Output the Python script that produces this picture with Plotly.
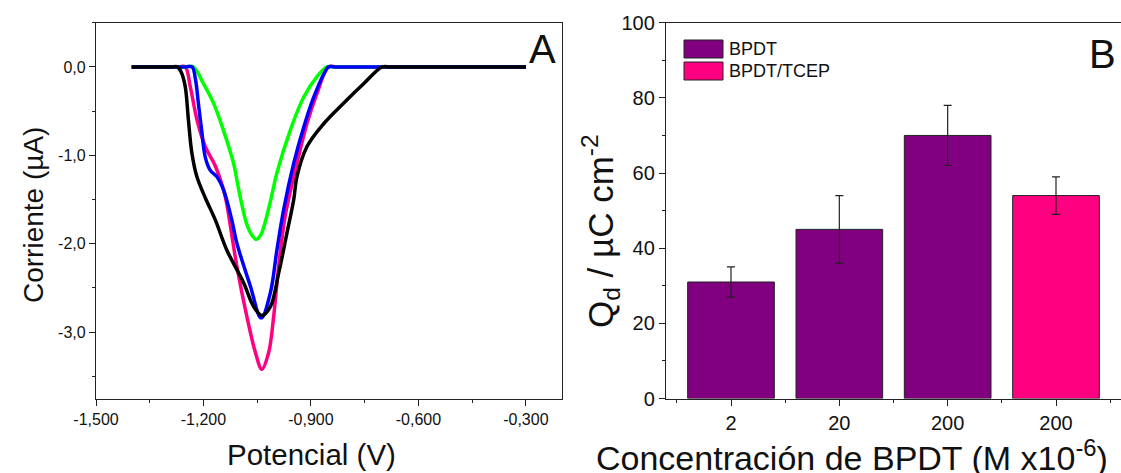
import plotly.graph_objects as go

# ---------------- Data: panel A (stripping voltammograms) ----------------
pot_pink = [-1.402, -1.32, -1.27, -1.251, -1.237, -1.218, -1.195, -1.167, -1.144, -1.135, -1.107, -1.079, -1.055,
            -1.037, -1.018, -1.004, -0.990, -0.972, -0.939, -0.911, -0.883, -0.851, -0.83, -0.80, -0.60, -0.30]
cur_pink = [0, 0, 0, 0, -0.22, -0.60, -0.90, -1.12, -1.39, -1.55, -2.25, -2.82, -3.23,
            -3.42, -3.23, -2.82, -2.25, -1.69, -1.09, -0.64, -0.30, 0, 0, 0, 0, 0]

pot_green = [-1.40, -1.32, -1.25, -1.228, -1.200, -1.172, -1.144, -1.116, -1.102, -1.079, -1.065, -1.053, -1.040,
             -1.028, -1.012, -0.995, -0.958, -0.920, -0.883, -0.855, -0.83, -0.80, -0.60, -0.30]
cur_green = [0, 0, 0, 0, -0.19, -0.41, -0.72, -1.09, -1.38, -1.78, -1.90, -1.95, -1.90,
             -1.76, -1.50, -1.20, -0.72, -0.34, -0.11, 0, 0, 0, 0, 0]

pot_blue = [-1.40, -1.32, -1.25, -1.232, -1.222, -1.214, -1.205, -1.195, -1.181, -1.163, -1.144, -1.121, -1.107,
            -1.069, -1.039, -1.013, -0.995, -0.976, -0.948, -0.920, -0.892, -0.864, -0.851, -0.83, -0.80,
            -0.60, -0.30]
cur_blue = [0, 0, 0, 0, -0.15, -0.42, -0.72, -1.02, -1.17, -1.24, -1.39, -1.73, -1.99,
            -2.48, -2.84, -2.55, -2.07, -1.61, -1.09, -0.68, -0.34, -0.08, 0, 0, 0,
            0, 0]

pot_black = [-1.40, -1.34, -1.29, -1.273, -1.262, -1.251, -1.242, -1.2325, -1.2185, -1.195, -1.167, -1.135, -1.088,
             -1.060, -1.037, -1.013, -0.990, -0.967, -0.948, -0.939, -0.911, -0.864, -0.809, -0.753,
             -0.701, -0.68, -0.65, -0.50, -0.30]
cur_black = [0, 0, 0, 0, -0.06, -0.22, -0.60, -0.97, -1.24, -1.48, -1.73, -2.07, -2.44,
             -2.71, -2.81, -2.71, -2.33, -1.88, -1.50, -1.24, -0.90, -0.64, -0.41, -0.19,
             0, 0, 0, 0, 0]

xa_ticks = [-1.5, -1.2, -0.9, -0.6, -0.3]
xa_labels = ["-1,500", "-1,200", "-0,900", "-0,600", "-0,300"]
ya_ticks = [0, -1, -2, -3]
ya_labels = ["0,0", "-1,0", "-2,0", "-3,0"]

# ---------------- Data: panel B (charge density) ----------------
conc_labels = ["2", "20", "200", "200"]
bpdt_pos = [0, 1, 2]
bpdt_q = [31, 45, 70]
bpdt_err = [4, 9, 8]
tcep_pos = [3]
tcep_q = [54]
tcep_err = [5]
name_bpdt = "BPDT"
name_tcep = "BPDT/TCEP"

FONT = "Liberation Sans, Arial, sans-serif"
PURPLE = "#800080"
PINK = "#FF0080"

fig = go.Figure()

for xs, ys, col in [(pot_pink, cur_pink, "#FF0080"), (pot_green, cur_green, "#00FF00"),
                    (pot_blue, cur_blue, "#0000FF"), (pot_black, cur_black, "#000000")]:
    fig.add_trace(go.Scatter(x=xs, y=ys, mode="lines", xaxis="x", yaxis="y",
                             line=dict(color=col, width=3.5, shape="spline", smoothing=1.0),
                             showlegend=False, hoverinfo="skip"))

fig.add_trace(go.Bar(x=bpdt_pos, y=bpdt_q, name=name_bpdt, xaxis="x2", yaxis="y2", width=0.8,
                     marker=dict(color=PURPLE, line=dict(color="#222", width=1)),
                     error_y=dict(type="data", array=bpdt_err, color="#222", thickness=1.2, width=4),
                     showlegend=False))
fig.add_trace(go.Bar(x=tcep_pos, y=tcep_q, name=name_tcep, xaxis="x2", yaxis="y2", width=0.8,
                     marker=dict(color=PINK, line=dict(color="#222", width=1)),
                     error_y=dict(type="data", array=tcep_err, color="#222", thickness=1.2, width=4),
                     showlegend=False))

W, H = 1121, 473
def px(x): return x / W
def py(y): return 1 - y / H

ydom = [py(398.5), py(22.7)]
axcommon = dict(showgrid=False, zeroline=False, showline=True, linecolor="#222", linewidth=1.3,
                mirror=True, ticks="outside", ticklen=6, tickcolor="#222", tickwidth=1.3,
                automargin=False)

fig.update_layout(
    width=W, height=H, margin=dict(l=0, r=0, t=0, b=0, pad=0, autoexpand=False),
    paper_bgcolor="white", plot_bgcolor="white",
    font=dict(family=FONT, color="#111"),
    barmode="overlay",
    xaxis=dict(domain=[px(96), px(561.7)], range=[-1.5, -0.2], tickmode="array",
               tickvals=xa_ticks, ticktext=xa_labels, tickfont=dict(size=16),
               minor=dict(tickmode="linear", tick0=-1.5, dtick=0.15, ticklen=3, ticks="outside",
                          tickcolor="#222", tickwidth=1.3),
               anchor="y", **axcommon),
    yaxis=dict(domain=ydom, range=[-3.75, 0.5], tickmode="array", tickvals=ya_ticks,
               ticktext=ya_labels, tickfont=dict(size=16),
               minor=dict(tickmode="linear", tick0=0, dtick=0.5, ticklen=3, ticks="outside",
                          tickcolor="#222", tickwidth=1.3),
               anchor="x", **axcommon),
    xaxis2=dict(domain=[px(666), 1.0], range=[-0.6, 3.6], tickmode="array",
                tickvals=[0, 1, 2, 3], ticktext=conc_labels, tickfont=dict(size=20),
                minor=dict(tickmode="linear", tick0=0.5, dtick=1, ticklen=3, ticks="outside",
                           tickcolor="#222", tickwidth=1.3),
                anchor="y2", **axcommon),
    yaxis2=dict(domain=ydom, range=[0, 100], tickmode="linear", tick0=0, dtick=20,
                tickfont=dict(size=20),
                minor=dict(tickmode="linear", tick0=0, dtick=10, ticklen=3, ticks="outside",
                           tickcolor="#222", tickwidth=1.3),
                anchor="x2", **axcommon),
)

# legend drawn as swatches + labels (panel B)
for (y0, y1, col, lab) in [(40, 58, PURPLE, name_bpdt), (62, 80, PINK, name_tcep)]:
    fig.add_shape(type="rect", xref="paper", yref="paper", x0=px(684), x1=px(723),
                  y0=py(y1), y1=py(y0), fillcolor=col, line=dict(color="#222", width=1))
    fig.add_annotation(xref="paper", yref="paper", x=px(727), y=py((y0 + y1) / 2), text=lab,
                       showarrow=False, xanchor="left", yanchor="middle",
                       font=dict(size=18, family=FONT, color="#111"))

annots = [
    dict(x=px(542.5), y=py(49), text="A", font=dict(size=40)),
    dict(x=px(1102), y=py(54), text="B", font=dict(size=40)),
    dict(x=px(311), y=py(454), text="Potencial (V)", font=dict(size=29.5)),
    dict(x=px(33), y=py(215), text="Corriente (\u00b5A)", font=dict(size=28), textangle=-90),
    dict(x=px(852), y=py(455.5), text="Concentraci\u00f3n de BPDT (M x10<sup>-6</sup>)", font=dict(size=34)),
    dict(x=px(600), y=py(231), text="Q<sub>d</sub> / \u00b5C cm<sup>-2</sup>", font=dict(size=35), textangle=-90),
]
for a in annots:
    f = dict(family=FONT, color="#111")
    f.update(a.pop("font"))
    fig.add_annotation(xref="paper", yref="paper", showarrow=False, xanchor="center",
                       yanchor="middle", font=f, **a)

fig.write_html("out.html", config={"displayModeBar": False},
               post_script="document.body.style.margin='0';document.body.style.overflow='hidden';")
